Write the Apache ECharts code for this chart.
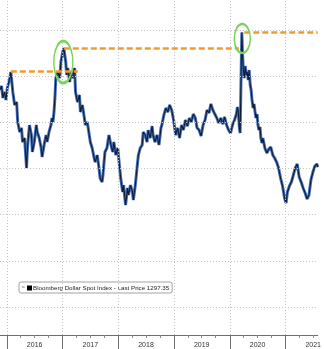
<!DOCTYPE html>
<html>
<head>
<meta charset="utf-8">
<script src="https://cdn.jsdelivr.net/npm/echarts@6/dist/echarts.min.js"></script>
<style>html,body{margin:0;padding:0;background:#fff;}#c{width:324px;height:349px;}</style>
</head>
<body>
<div id="c"></div>
<script>
// ---- data ----
const dates = [
'2015-11-17','2015-11-27','2015-12-06','2015-12-16','2015-12-26','2016-01-04','2016-01-14','2016-01-20','2016-01-27','2016-02-09',
'2016-02-21','2016-03-05','2016-03-12','2016-03-25','2016-04-06','2016-04-13','2016-04-26','2016-05-09','2016-05-15','2016-05-28',
'2016-06-10','2016-06-16','2016-06-29','2016-07-12','2016-07-18','2016-07-31','2016-08-13','2016-08-19','2016-09-01','2016-09-14',
'2016-09-21','2016-10-03','2016-10-16','2016-10-23','2016-10-29','2016-11-05','2016-11-11','2016-11-17','2016-11-30','2016-12-13',
'2016-12-20','2017-01-01','2017-01-08','2017-01-21','2017-01-27','2017-02-03','2017-02-16','2017-02-22','2017-03-07','2017-03-20',
'2017-03-26','2017-04-08','2017-04-21','2017-04-27','2017-05-10','2017-05-23','2017-05-29','2017-06-11','2017-06-24','2017-07-01',
'2017-07-13','2017-07-26','2017-08-02','2017-08-15','2017-08-27','2017-09-03','2017-09-16','2017-09-22','2017-09-29','2017-10-05',
'2017-10-18','2017-10-31','2017-11-13','2017-11-25','2017-12-02','2017-12-15','2017-12-28','2018-01-03','2018-01-16','2018-01-29',
'2018-02-04','2018-02-17','2018-03-02','2018-03-08','2018-03-21','2018-04-03','2018-04-09','2018-04-22','2018-05-05','2018-05-12',
'2018-05-24','2018-06-06','2018-06-13','2018-06-26','2018-07-08','2018-07-15','2018-07-28','2018-08-10','2018-08-16','2018-08-29',
'2018-09-11','2018-09-17','2018-09-24','2018-10-07','2018-10-13','2018-10-26','2018-11-08','2018-11-21','2018-12-03','2018-12-16',
'2018-12-29','2019-01-11','2019-01-24','2019-02-06','2019-02-19','2019-03-03','2019-03-16','2019-03-29','2019-04-11','2019-04-24',
'2019-05-07','2019-05-20','2019-06-01','2019-06-14','2019-06-27','2019-07-10','2019-07-23','2019-08-05','2019-08-18','2019-08-30',
'2019-09-12','2019-09-25','2019-10-08','2019-10-21','2019-11-03','2019-11-16','2019-11-28','2019-12-11','2019-12-24','2020-01-06',
'2020-01-19','2020-02-01','2020-02-14','2020-02-20','2020-02-26','2020-03-04','2020-03-09','2020-03-20','2020-03-25','2020-03-30',
'2020-04-05','2020-04-11','2020-04-18','2020-04-24','2020-05-01','2020-05-07','2020-05-14','2020-05-20','2020-05-26','2020-06-02',
'2020-06-08','2020-06-15','2020-06-21','2020-06-28','2020-07-04','2020-07-10','2020-07-17','2020-07-23','2020-07-30','2020-08-05',
'2020-08-18','2020-08-31','2020-09-13','2020-09-26','2020-10-09','2020-10-21','2020-11-03','2020-11-16','2020-11-29','2020-12-12',
'2020-12-25','2021-01-04','2021-01-13','2021-01-26','2021-02-08','2021-02-21','2021-03-05','2021-03-18','2021-03-31','2021-04-13',
'2021-04-26','2021-05-09','2021-05-22','2021-06-03','2021-06-16','2021-06-29','2021-07-12','2021-07-25','2021-07-31'
];
const values = [
1235.0,1239.4,1226.4,1232.9,1224.2,1237.2,1243.7,1248.0,1254.5,1232.9,
1218.8,1222.0,1200.4,1189.5,1193.9,1178.7,1183.0,1150.5,1172.2,1197.1,
1186.3,1167.9,1178.7,1197.1,1189.5,1183.0,1172.2,1162.5,1175.5,1186.3,
1178.7,1189.5,1197.1,1204.7,1200.4,1211.2,1226.4,1248.0,1254.5,1248.0,
1265.3,1276.2,1280.5,1265.3,1251.3,1258.8,1243.7,1254.5,1248.0,1258.8,
1232.9,1222.0,1229.6,1211.2,1218.8,1204.7,1197.1,1200.4,1186.3,1178.7,
1172.2,1161.4,1157.0,1164.6,1150.5,1139.7,1135.4,1143.0,1157.0,1167.9,
1172.2,1186.3,1175.5,1167.9,1178.7,1164.6,1172.2,1161.4,1139.7,1124.6,
1132.1,1110.5,1128.9,1121.3,1132.1,1124.6,1115.9,1132.1,1153.8,1164.6,
1172.2,1175.5,1189.5,1186.3,1178.7,1191.7,1183.0,1196.0,1186.3,1178.7,
1186.3,1180.9,1175.5,1193.9,1197.1,1207.9,1215.5,1211.2,1218.8,1213.4,
1202.5,1186.3,1193.9,1183.0,1197.1,1191.7,1202.5,1196.0,1204.7,1200.4,
1209.0,1204.7,1193.9,1191.7,1185.2,1197.1,1202.5,1213.4,1210.1,1219.9,
1213.4,1209.0,1204.7,1199.3,1204.7,1198.2,1205.8,1197.1,1191.7,1188.4,
1197.1,1202.5,1209.0,1216.6,1211.2,1193.9,1188.4,1297.4,1272.9,1256.7,
1248.0,1261.0,1251.3,1254.5,1245.9,1256.7,1240.4,1235.0,1224.2,1215.5,
1219.9,1211.2,1204.7,1209.0,1197.1,1191.7,1195.0,1183.0,1177.6,1183.0,
1172.2,1166.8,1171.1,1173.3,1164.6,1161.4,1157.0,1150.5,1139.7,1131.1,
1118.1,1112.6,1124.6,1131.1,1135.4,1143.0,1150.5,1154.9,1140.8,1135.4,
1128.9,1123.5,1117.0,1121.3,1137.6,1146.2,1152.7,1154.9,1151.6
];
const seriesName = 'Bloomberg Dollar Spot Index - Last Price 1297.35';
const gridValues = [1000, 1050, 1100, 1150, 1200, 1250, 1300];
const yearStarts = ['2016-01-01','2017-01-01','2018-01-01','2019-01-01','2020-01-01','2021-01-01'];
const yearMids = ['2016-07-01','2017-07-01','2018-07-01','2019-07-01','2020-07-01','2021-07-01'];
const yearLabels = ['2016','2017','2018','2019','2020','2021'];
const quarterStarts = ['2015-10-01','2016-04-01','2016-07-01','2016-10-01','2017-04-01','2017-07-01','2017-10-01',
  '2018-04-01','2018-07-01','2018-10-01','2019-04-01','2019-07-01','2019-10-01',
  '2020-04-01','2020-07-01','2020-10-01','2021-04-01','2021-07-01'];
const levelValues = [1255.5, 1280.0, 1297.4];
const levelStarts = ['2016-01-27', '2017-01-08', '2020-04-05'];
const levelEnds = ['2017-04-10', '2020-03-01', '2021-07-31'];
const circledDates = ['2017-01-05', '2020-03-23'];
const circledValues = [1265.3, 1290.8];
const xMin = '2015-11-17', xMax = '2021-07-31';
const yMin = 969.7, yMax = 1332.5;

// ---- chart ----
const ts = s => +echarts.time.parse(s);
const lineData = dates.map((d, i) => [ts(d), values[i]]);
const midTs = yearMids.map(ts);
const chart = echarts.init(document.getElementById('c'), null, {renderer: 'canvas'});
const FONT = 'Liberation Sans, Arial, sans-serif';
const ellipse = 'path://M0,50 A50,50 0 1,1 100,50 A50,50 0 1,1 0,50 Z';
const ellipseSizes = [[19, 42], [16, 29]];

chart.setOption({
  animation: false,
  backgroundColor: '#fff',
  grid: {left: 0, right: 0, top: 0, bottom: 14, containLabel: false},
  xAxis: [{
    type: 'value', min: ts(xMin), max: ts(xMax), position: 'bottom',
    axisLine: {show: true, lineStyle: {color: '#6e6e6e', width: 1}},
    axisTick: {show: true, customValues: yearStarts.map(ts), length: 14, inside: false, lineStyle: {color: '#6e6e6e', width: 1}},
    axisLabel: {show: true, customValues: midTs, margin: 7, fontSize: 7, color: '#333', fontFamily: FONT,
      showMinLabel: true, showMaxLabel: true, hideOverlap: false,
      formatter: v => { const i = midTs.indexOf(v); return i >= 0 ? yearLabels[i] : ''; }},
    splitLine: {show: false}
  }, {
    type: 'value', min: ts(xMin), max: ts(xMax), position: 'bottom', gridIndex: 0,
    axisLine: {show: false},
    axisTick: {show: true, customValues: quarterStarts.map(ts), length: 3, lineStyle: {color: '#8a8a8a', width: 1}},
    axisLabel: {show: false},
    splitLine: {show: false}
  }],
  yAxis: {type: 'value', min: yMin, max: yMax, show: false, splitLine: {show: false}},
  legend: {
    left: 19, top: 282, orient: 'horizontal',
    padding: [3, 3, 2, 8],
    borderColor: '#8a8a8a', borderWidth: 0.8, borderRadius: 2,
    itemWidth: 5, itemHeight: 5,
    textStyle: {fontSize: 6.2, color: '#222', fontFamily: FONT, padding: [0, 0, 0, -4]},
    data: [{name: seriesName, icon: 'rect', itemStyle: {color: '#000'}}]
  },
  graphic: [{type: 'text', left: 21.5, top: 284.5, style: {text: '=', fontSize: 6, fill: '#888', fontFamily: FONT}}],
  series: [{
    type: 'line', name: 'grid', data: [], silent: true, z: 1,
    markLine: {
      silent: true, symbol: 'none', label: {show: false},
      lineStyle: {color: '#c4c4c4', type: [1, 2], width: 1},
      data: gridValues.map(v => ({yAxis: v})).concat(yearStarts.map(d => ({xAxis: ts(d)})))
    }
  }, {
    type: 'line', name: seriesName, data: lineData, showSymbol: false, symbol: 'none', z: 3,
    lineStyle: {color: '#4470b8', width: 3}, itemStyle: {color: '#4470b8'}
  }, {
    type: 'line', name: 'edge', data: lineData, showSymbol: false, symbol: 'none', z: 4,
    lineStyle: {color: '#101c36', width: 1.1},
    markLine: {
      silent: true, symbol: 'none', label: {show: false},
      lineStyle: {color: '#f39a2c', type: [6, 3], width: 2.5},
      data: levelValues.map((v, i) => [{coord: [ts(levelStarts[i]), v]}, {coord: [ts(levelEnds[i]), v]}])
    },
    markPoint: {
      silent: true, label: {show: false},
      itemStyle: {color: 'none', borderColor: '#77d454', borderWidth: 2},
      data: circledDates.map((d, i) => ({coord: [ts(d), circledValues[i]], symbol: ellipse, symbolSize: ellipseSizes[i]}))
    }
  }]
});
</script>
</body>
</html>
